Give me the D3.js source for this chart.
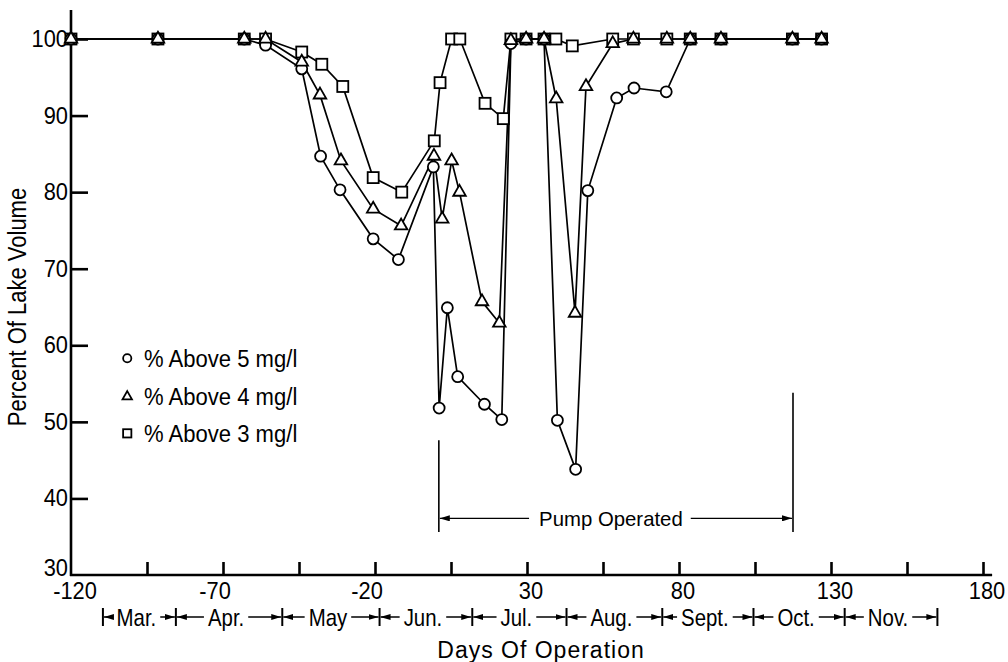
<!DOCTYPE html>
<html>
<head>
<meta charset="utf-8">
<script src="https://cdn.jsdelivr.net/npm/d3@7"></script>
<style>
  body { margin: 0; background: #fff; }
  svg { display: block; }
  text { font-family: "Liberation Sans", Arial, sans-serif; fill: #000; }
  .series-line { fill: none; stroke: #000; stroke-width: 1.7; }
  .marker { fill: #fff; stroke: #000; stroke-width: 1.8; }
</style>
</head>
<body>
<div id="chart"></div>
<script>
  // Days of operation and percent of lake volume.
  var days5 = [-120, -91.4, -63, -56, -44.1, -37.9, -31.5, -20.6, -12.3, -0.8, 1.1, 3.8, 7.2, 16, 21.7, 24.7, 29.7, 35.6, 40, 46, 50, 59.5, 65.2, 75.8, 83.7, 93.8, 117.3, 126.9];
  var pct5 = [100, 100, 100, 99.2, 96.1, 84.7, 80.3, 73.9, 71.2, 83.3, 51.8, 64.9, 55.9, 52.3, 50.3, 99.4, 100, 100, 50.2, 43.8, 80.2, 92.3, 93.6, 93.1, 100, 100, 100, 100];

  var days4 = [-120, -91.4, -63, -56, -44.1, -38.1, -31.2, -20.6, -11.4, -0.6, 2.1, 5.2, 7.8, 15.2, 20.9, 24.7, 29.7, 35.6, 39.6, 45.8, 49.4, 58.2, 65, 76, 83.7, 93.8, 117.3, 126.9];
  var pct4 = [100, 100, 100, 100, 97.0, 92.7, 84.1, 77.8, 75.6, 84.7, 76.5, 84.1, 80.0, 65.7, 62.9, 99.8, 100, 100, 92.2, 64.2, 93.8, 99.4, 100, 100, 100, 100, 100, 100];

  var days3 = [-120, -91.4, -63, -56, -44.1, -37.5, -30.6, -20.6, -11.2, -0.5, 1.4, 5.2, 7.9, 16.2, 22.2, 24.7, 29.7, 35.6, 39.5, 44.9, 58.2, 65, 76, 83.7, 93.8, 117.3, 126.9];
  var pct3 = [100, 100, 100, 100, 98.3, 96.7, 93.8, 81.9, 80.0, 86.7, 94.3, 100, 100, 91.6, 89.6, 100, 100, 100, 100, 99.1, 100, 100, 100, 100, 100, 100, 100];

  var legendLabels = ['% Above 5 mg/l', '% Above 4 mg/l', '% Above 3 mg/l'];

  var xTicks = [-120, -95, -70, -45, -20, 5, 30, 55, 80, 105, 130, 155, 180];
  var xTickLabels = [-120, -70, -20, 30, 80, 130, 180];
  var yTicks = [30, 40, 50, 60, 70, 80, 90, 100];

  var monthNames = ['Mar.', 'Apr.', 'May', 'Jun.', 'Jul.', 'Aug.', 'Sept.', 'Oct.', 'Nov.'];
  var monthEdges = [-109.5, -85.5, -50.5, -18.5, 12, 43, 74.5, 104.5, 134.5, 165];

  var pumpStart = 1;
  var pumpEnd = 117.5;

  var width = 1008;
  var height = 662;

  var xScale = d3.scaleLinear().domain([-120, 180]).range([71, 983]);
  var yScale = d3.scaleLinear().domain([30, 100]).range([575, 39]);

  var svg = d3.select('#chart')
    .append('svg')
    .attr('width', width)
    .attr('height', height);

  // The lettering in the figure is tall and narrow, so squeeze the text sideways.
  function label(g, x, y, str, size, squeeze, anchor, rotate) {
    var tf = 'translate(' + x + ',' + y + ')' + (rotate ? ' rotate(' + rotate + ')' : '') +
      ' scale(' + squeeze + ',1)';
    return g.append('text')
      .attr('transform', tf)
      .attr('text-anchor', anchor || 'start')
      .style('font-size', size + 'px')
      .text(str);
  }

  function zip(days, pct) {
    return days.map(function(d, i) { return { day: d, pct: pct[i] }; });
  }

  var series = [
    { key: 'c', data: zip(days5, pct5) },
    { key: 't', data: zip(days4, pct4) },
    { key: 's', data: zip(days3, pct3) }
  ];

  // Axis lines, drawn by hand so they run a little past the last tick.
  svg.append('line')
    .attr('x1', xScale(-120)).attr('x2', xScale(-120))
    .attr('y1', yScale(103.8)).attr('y2', yScale(30) + 1)
    .attr('stroke', '#000').attr('stroke-width', 2.6);

  svg.append('line')
    .attr('x1', xScale(-120) - 1).attr('x2', xScale(183))
    .attr('y1', yScale(30)).attr('y2', yScale(30))
    .attr('stroke', '#000').attr('stroke-width', 2.6);

  // Ticks point inward from the axes.
  var yAxis = d3.axisRight(yScale)
    .tickValues(yTicks)
    .tickSize(17)
    .tickFormat('');

  var yAxisG = svg.append('g')
    .attr('transform', 'translate(' + xScale(-120) + ',0)')
    .call(yAxis);
  yAxisG.select('.domain').remove();
  yAxisG.selectAll('.tick line').attr('stroke-width', 2.6);
  yAxisG.selectAll('.tick').filter(function(d) { return d === 30; }).select('line').remove();

  var xAxis = d3.axisTop(xScale)
    .tickValues(xTicks)
    .tickSize(13)
    .tickFormat('');

  var xAxisG = svg.append('g')
    .attr('transform', 'translate(0,' + yScale(30) + ')')
    .call(xAxis);
  xAxisG.select('.domain').remove();
  xAxisG.selectAll('.tick line').attr('stroke-width', 2.6);
  xAxisG.selectAll('.tick').filter(function(d) { return d === -120; }).select('line').remove();

  // Tick labels.
  var tickLabels = svg.append('g');
  yTicks.forEach(function(d) {
    // The 30 sits a bit high so it clears the -120 below it.
    var y = yScale(d) + (d === 30 ? 1 : 8);
    label(tickLabels, xScale(-120) - 3, y, d, 23, 0.95, 'end');
  });

  xTickLabels.forEach(function(d) {
    var x = xScale(d) + (d < 0 && d !== -120 ? -8 : 4);
    label(tickLabels, x, yScale(30) + 24, d, 23, 0.95, 'middle');
  });

  // Month row under the axis.
  var monthY = 617;
  var months = svg.append('g').attr('class', 'months');

  var defs = svg.append('defs');
  defs.append('marker')
    .attr('id', 'head')
    .attr('viewBox', '0 0 10 6')
    .attr('refX', 10)
    .attr('refY', 3)
    .attr('markerWidth', 10)
    .attr('markerHeight', 6)
    .attr('markerUnits', 'userSpaceOnUse')
    .attr('orient', 'auto')
    .append('path')
    .attr('d', 'M0,0L10,3L0,6Z')
    .attr('fill', '#000');

  months.selectAll('line.edge')
    .data(monthEdges)
    .enter().append('line')
    .attr('class', 'edge')
    .attr('x1', function(d) { return xScale(d); })
    .attr('x2', function(d) { return xScale(d); })
    .attr('y1', monthY - 9)
    .attr('y2', monthY + 9)
    .attr('stroke', '#000')
    .attr('stroke-width', 2);

  monthNames.forEach(function(name, i) {
    var x0 = xScale(monthEdges[i]);
    var x1 = xScale(monthEdges[i + 1]);
    var mid = (x0 + x1) / 2 - 3;
    var squeeze = 0.85;
    var t = label(months, mid, monthY + 9, name, 24, squeeze, 'middle');
    var half = t.node().getComputedTextLength() * squeeze / 2;
    months.append('line')
      .attr('x1', mid - half - 4).attr('x2', x0 + 1)
      .attr('y1', monthY).attr('y2', monthY)
      .attr('stroke', '#000').attr('stroke-width', 1.5)
      .attr('marker-end', 'url(#head)');
    months.append('line')
      .attr('x1', mid + half + 4).attr('x2', x1 - 1)
      .attr('y1', monthY).attr('y2', monthY)
      .attr('stroke', '#000').attr('stroke-width', 1.5)
      .attr('marker-end', 'url(#head)');
  });

  // Axis titles.
  label(svg, 541, 658, 'Days  Of  Operation', 23, 1, 'middle')
    .style('letter-spacing', '1px');

  label(svg, 26, yScale(65), 'Percent Of Lake Volume', 25, 0.88, 'middle', -90);

  // Pump operation bracket.
  var arrowY = yScale(37.4);
  svg.append('line')
    .attr('x1', xScale(pumpStart)).attr('x2', xScale(pumpStart))
    .attr('y1', yScale(47.6)).attr('y2', yScale(35.6))
    .attr('stroke', '#000').attr('stroke-width', 1.6);
  svg.append('line')
    .attr('x1', xScale(pumpEnd)).attr('x2', xScale(pumpEnd))
    .attr('y1', yScale(53.8)).attr('y2', yScale(35.6))
    .attr('stroke', '#000').attr('stroke-width', 1.6);

  var pumpX = xScale(57.6);
  var pumpLabel = label(svg, pumpX, arrowY + 7.5, 'Pump Operated', 21, 0.97, 'middle');
  var pumpHalf = pumpLabel.node().getComputedTextLength() * 0.97 / 2;

  svg.append('line')
    .attr('x1', pumpX - pumpHalf - 10).attr('x2', xScale(pumpStart) + 1)
    .attr('y1', arrowY).attr('y2', arrowY)
    .attr('stroke', '#000').attr('stroke-width', 1.4)
    .attr('marker-end', 'url(#head)');
  svg.append('line')
    .attr('x1', pumpX + pumpHalf + 8).attr('x2', xScale(pumpEnd) - 1)
    .attr('y1', arrowY).attr('y2', arrowY)
    .attr('stroke', '#000').attr('stroke-width', 1.4)
    .attr('marker-end', 'url(#head)');

  // Series lines.
  var line = d3.line()
    .x(function(d) { return xScale(d.day); })
    .y(function(d) { return yScale(d.pct); });

  svg.append('g').selectAll('path')
    .data(series)
    .enter().append('path')
    .attr('class', 'series-line')
    .attr('d', function(s) { return line(s.data); });

  // Markers: squares underneath, then circles, then triangles on top.
  function drawMarkers(g, key, data, scale) {
    var k = scale || 1;
    if (key === 's') {
      g.selectAll('rect')
        .data(data)
        .enter().append('rect')
        .attr('class', 'marker')
        .attr('x', function(d) { return xScale(d.day) - 5.5 * k; })
        .attr('y', function(d) { return yScale(d.pct) - 5.5 * k; })
        .attr('width', 11 * k)
        .attr('height', 11 * k);
    } else if (key === 'c') {
      g.selectAll('circle')
        .data(data)
        .enter().append('circle')
        .attr('class', 'marker')
        .attr('cx', function(d) { return xScale(d.day); })
        .attr('cy', function(d) { return yScale(d.pct); })
        .attr('r', 5.5 * k);
    } else {
      g.selectAll('path')
        .data(data)
        .enter().append('path')
        .attr('class', 'marker')
        .attr('d', d3.symbol().type(d3.symbolTriangle).size(68 * k * k)())
        .attr('transform', function(d) {
          return 'translate(' + xScale(d.day) + ',' + yScale(d.pct) + ')';
        });
    }
  }

  var markerG = svg.append('g');
  drawMarkers(markerG.append('g'), 's', series[2].data);
  drawMarkers(markerG.append('g'), 'c', series[0].data);
  drawMarkers(markerG.append('g'), 't', series[1].data);

  // Legend.
  var legendKeys = ['c', 't', 's'];
  var legendPct = [58.3, 53.3, 48.5];
  legendKeys.forEach(function(key, i) {
    var row = svg.append('g');
    drawMarkers(row, key, [{ day: -101.5, pct: legendPct[i] }], 0.75);
    label(row, xScale(-96), yScale(legendPct[i]) + 8.5, legendLabels[i], 24, 0.92);
  });
</script>
</body>
</html>
